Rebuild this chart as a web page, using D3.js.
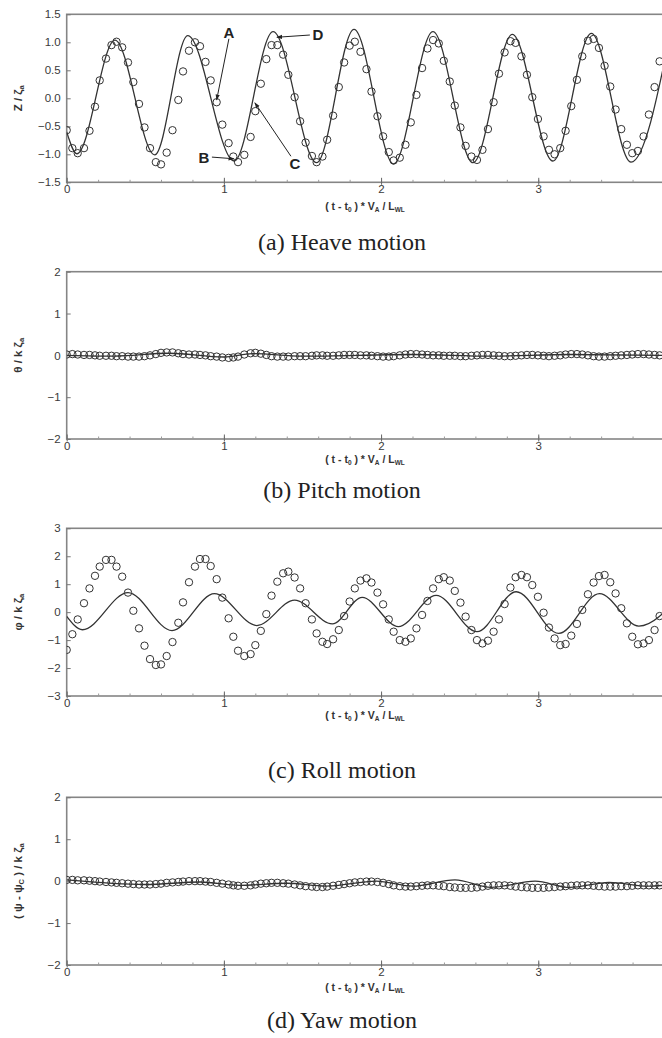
<!DOCTYPE html>
<html>
<head>
<meta charset="utf-8"/>
<title>Ship motions in waves</title>
<script src="https://d3js.org/d3.v7.min.js"></script>
<style>
  body { margin: 0; background: #fff; }
  svg { display: block; }
  .tick text { font-family: "Liberation Sans", Arial, sans-serif; font-size: 11.5px; fill: #3a3a3a; }
  .ylab, .xlab { font-family: "Liberation Sans", Arial, sans-serif; font-weight: bold; fill: #333; }
  .caption { font-family: "Liberation Serif", "Times New Roman", serif; font-size: 24px; fill: #222; }
  .anno { font-family: "Liberation Sans", Arial, sans-serif; font-weight: bold; font-size: 15px; fill: #222; }
</style>
</head>
<body>
<svg width="662" height="1038"></svg>

<script>

// sample times of the measured (circle) series, shared by all four panels
const expTime = [0, .036, .07, .11, .145, .18, .21, .25, .285, .317, .353, .39, .424, .46, .495, .53,
  .567, .60, .636, .673, .71, .74, .778, .816, .848, .883, .916, .954, .99, 1.03, 1.06, 1.09, 1.13,
  1.17, 1.2, 1.235, 1.27, 1.303, 1.34, 1.377, 1.41, 1.45, 1.485, 1.52, 1.56, 1.59, 1.627, 1.657,
  1.695, 1.731, 1.765, 1.80, 1.833, 1.869, 1.907, 1.939, 1.977, 2.013, 2.049, 2.08, 2.119, 2.155,
  2.189, 2.225, 2.261, 2.295, 2.331, 2.367, 2.399, 2.437, 2.469, 2.505, 2.538, 2.575, 2.61, 2.645,
  2.68, 2.716, 2.75, 2.786, 2.823, 2.856, 2.893, 2.928, 2.962, 2.998, 3.034, 3.068, 3.104, 3.14,
  3.174, 3.21, 3.246, 3.28, 3.316, 3.352, 3.386, 3.422, 3.458, 3.492, 3.528, 3.564, 3.598, 3.634,
  3.67, 3.704, 3.74, 3.772];

// measured values (circles)
const heaveExp = [-0.57, -0.89, -0.98, -0.89, -0.58, -0.15, 0.32, 0.71, 0.95, 1.01, 0.91, 0.64, 0.29,
  -0.10, -0.52, -0.89, -1.14, -1.18, -0.97, -0.57, -0.03, 0.48, 0.85, 1.0, 0.93, 0.65, 0.32, -0.07,
  -0.47, -0.8, -1.04, -1.14, -1.01, -0.69, -0.23, 0.26, 0.70, 0.95, 0.95, 0.78, 0.42, 0.02, -0.41,
  -0.79, -1.03, -1.14, -1.04, -0.74, -0.31, 0.20, 0.64, 0.94, 1.01, 0.83, 0.52, 0.12, -0.32, -0.68,
  -0.96, -1.11, -1.06, -0.83, -0.43, 0.06, 0.54, 0.89, 1.04, 0.98, 0.67, 0.30, -0.13, -0.52, -0.85,
  -1.04, -1.10, -0.92, -0.55, -0.07, 0.44, 0.82, 1.02, 0.99, 0.75, 0.42, 0.02, -0.37, -0.68, -0.92,
  -1.0, -0.89, -0.58, -0.14, 0.33, 0.75, 1.03, 1.06, 0.90, 0.58, 0.21, -0.20, -0.55, -0.83, -0.98,
  -0.94, -0.68, -0.29, 0.20, 0.66];

const pitchExp = [0.02, 0.03, 0.02, 0.01, 0.01, 0.0, -0.01, -0.01, -0.01, -0.02, -0.02, -0.03, -0.03,
  -0.03, -0.02, 0.0, 0.03, 0.06, 0.07, 0.07, 0.05, 0.03, 0.02, 0.02, 0.01, 0.0, -0.02, -0.03, -0.05,
  -0.06, -0.05, -0.03, 0.02, 0.05, 0.06, 0.04, 0.01, -0.02, -0.03, -0.03, -0.03, -0.02, -0.02, -0.02,
  -0.01, 0.0, 0.0, -0.01, -0.01, 0.0, 0.01, 0.01, 0.01, 0.0, 0.0, -0.01, -0.02, -0.03, -0.03, -0.02,
  0.0, 0.02, 0.03, 0.03, 0.02, 0.01, 0.0, 0.0, -0.01, -0.01, -0.01, -0.02, -0.02, -0.01, 0.0, 0.01,
  0.01, 0.0, -0.01, -0.02, -0.02, -0.01, 0.0, 0.01, 0.01, 0.0, -0.01, -0.02, -0.01, 0.0, 0.02, 0.03,
  0.03, 0.02, 0.0, -0.02, -0.03, -0.03, -0.02, -0.01, 0.0, 0.01, 0.02, 0.03, 0.03, 0.02, 0.01, 0.0];

const rollExp = [-1.35, -0.79, -0.26, 0.32, 0.85, 1.30, 1.63, 1.87, 1.87, 1.63, 1.27, 0.70, 0.05, -0.58,
  -1.20, -1.68, -1.89, -1.87, -1.57, -1.07, -0.38, 0.35, 1.07, 1.63, 1.90, 1.90, 1.65, 1.18, 0.52,
  -0.22, -0.88, -1.38, -1.57, -1.50, -1.18, -0.67, -0.07, 0.59, 1.09, 1.39, 1.45, 1.24, 0.85, 0.32,
  -0.26, -0.76, -1.06, -1.14, -0.97, -0.64, -0.14, 0.38, 0.85, 1.13, 1.21, 1.06, 0.70, 0.28, -0.26,
  -0.70, -1.0, -1.06, -0.94, -0.58, -0.10, 0.40, 0.85, 1.18, 1.25, 1.13, 0.76, 0.34, -0.16, -0.64,
  -1.0, -1.12, -1.02, -0.70, -0.26, 0.29, 0.88, 1.25, 1.33, 1.25, 0.97, 0.55, -0.02, -0.55, -0.94,
  -1.18, -1.14, -0.84, -0.42, 0.08, 0.64, 1.06, 1.29, 1.33, 1.07, 0.67, 0.14, -0.40, -0.88, -1.15,
  -1.12, -1.0, -0.64, -0.14];

const yawExp = [0.03, 0.03, 0.02, 0.02, 0.01, 0.0, -0.01, -0.02, -0.03, -0.04, -0.05, -0.06, -0.07,
  -0.08, -0.08, -0.08, -0.07, -0.06, -0.04, -0.03, -0.02, -0.01, 0.0, 0.0, 0.0, -0.01, -0.02, -0.04,
  -0.06, -0.08, -0.1, -0.11, -0.11, -0.1, -0.08, -0.06, -0.05, -0.04, -0.04, -0.05, -0.06, -0.08,
  -0.1, -0.12, -0.13, -0.14, -0.14, -0.13, -0.11, -0.09, -0.07, -0.05, -0.03, -0.02, -0.01, -0.01,
  -0.02, -0.04, -0.07, -0.1, -0.12, -0.13, -0.13, -0.12, -0.11, -0.1, -0.1, -0.11, -0.12, -0.14,
  -0.15, -0.16, -0.16, -0.16, -0.15, -0.13, -0.11, -0.1, -0.1, -0.1, -0.11, -0.13, -0.14, -0.15,
  -0.16, -0.16, -0.16, -0.15, -0.14, -0.13, -0.12, -0.11, -0.1, -0.1, -0.1, -0.11, -0.12, -0.13,
  -0.13, -0.13, -0.12, -0.12, -0.11, -0.1, -0.1, -0.1, -0.1, -0.1];

// computed values (solid line), [time, value] at the turning points
const heaveCfd = [[0, -0.6], [0.065, -0.99], [0.307, 1.04], [0.56, -1.01], [0.77, 1.12], [1.065, -1.12],
  [1.313, 1.19], [1.59, -1.15], [1.828, 1.23], [2.08, -1.17], [2.33, 1.19], [2.585, -1.15],
  [2.835, 1.14], [3.093, -1.12], [3.338, 1.16], [3.59, -1.14], [3.84, 1.15]];

const pitchCfd = [[0, 0.0], [0.3, -0.02], [0.65, 0.05], [1.0, -0.04], [1.18, 0.04], [1.5, -0.02],
  [2.2, 0.02], [2.7, -0.02], [3.2, 0.02], [3.8, 0.0]];

const rollCfd = [[0, -0.15], [0.1, -0.63], [0.39, 0.70], [0.67, -0.66], [0.94, 0.66], [1.21, -0.48],
  [1.45, 0.43], [1.69, -0.42], [1.88, 0.53], [2.11, -0.52], [2.35, 0.60], [2.61, -0.70],
  [2.86, 0.73], [3.13, -0.76], [3.39, 0.66], [3.64, -0.50], [3.9, 0.6]];

const yawCfd = [[0, 0.03], [0.5, -0.08], [0.85, -0.02], [1.1, -0.1], [1.4, -0.05], [1.65, -0.12],
  [1.97, 0.0], [2.2, -0.12], [2.47, 0.03], [2.7, -0.15], [2.98, 0.0], [3.2, -0.15], [3.45, -0.03],
  [3.7, -0.12], [3.8, -0.1]];

// A-D markers on the heave curve: label position and the point it points to
const heaveMarks = [
  { name: "A", label: [1.032, 1.17], target: [0.954, -0.03] },
  { name: "B", label: [0.873, -1.05], target: [1.064, -1.08] },
  { name: "C", label: [1.452, -1.16], target: [1.197, -0.08] },
  { name: "D", label: [1.598, 1.13], target: [1.337, 1.09] }
];

const panels = [
  { top: 14.3, bottom: 182.3, domain: [-1.5, 1.5], ticks: [-1.5, -1, -0.5, 0, 0.5, 1, 1.5], fmt: d3.format(".1f"),
    exp: heaveExp, cfd: heaveCfd, ylab: [["Z / ζ"], ["a", 1]], xlabY: 210, caption: "(a) Heave motion", capY: 250 },
  { top: 271.7, bottom: 439, domain: [-2, 2], ticks: [-2, -1, 0, 1, 2], fmt: d3.format("d"),
    exp: pitchExp, cfd: pitchCfd, ylab: [["θ / k ζ"], ["a", 1]], xlabY: 463, caption: "(b) Pitch motion", capY: 498 },
  { top: 528.3, bottom: 696, domain: [-3, 3], ticks: [-3, -2, -1, 0, 1, 2, 3], fmt: d3.format("d"),
    exp: rollExp, cfd: rollCfd, ylab: [["φ / k ζ"], ["a", 1]], xlabY: 719, caption: "(c) Roll motion", capY: 778 },
  { top: 797.3, bottom: 965, domain: [-2, 2], ticks: [-2, -1, 0, 1, 2], fmt: d3.format("d"),
    exp: yawExp, cfd: yawCfd, ylab: [["( ψ - ψ"], ["C", 1], [" ) / k ζ"], ["a", 1]], xlabY: 991, caption: "(d) Yaw motion", capY: 1028 }
];

const svg = d3.select("svg");

const x = d3.scaleLinear()
    .domain([0, 3.8])
    .range([66.7, 664]);

svg.append("defs").append("marker")
    .attr("id", "arrow")
    .attr("viewBox", "0 0 10 10")
    .attr("refX", 9)
    .attr("refY", 5)
    .attr("markerWidth", 6)
    .attr("markerHeight", 6)
    .attr("orient", "auto")
  .append("path")
    .attr("d", "M0,1.5 L10,5 L0,8.5 Z")
    .attr("fill", "#222");

panels.forEach((p, i) => {
  const y = d3.scaleLinear()
      .domain(p.domain)
      .range([p.bottom, p.top]);

  const g = svg.append("g");

  g.append("clipPath")
      .attr("id", "clip" + i)
    .append("rect")
      .attr("x", x.range()[0])
      .attr("y", p.top)
      .attr("width", 662 - x.range()[0])
      .attr("height", p.bottom - p.top);

  // frame
  g.append("rect")
      .attr("x", x.range()[0])
      .attr("y", p.top)
      .attr("width", x.range()[1] - x.range()[0] + 4)
      .attr("height", p.bottom - p.top)
      .attr("fill", "none")
      .attr("stroke", "#858585")
      .attr("stroke-width", 1.6);

  // minor x ticks
  g.append("g")
      .attr("transform", `translate(0,${p.bottom})`)
      .call(d3.axisBottom(x).tickValues(d3.range(0.2, 3.8, 0.2)).tickSize(-2.5).tickFormat(""))
      .call(a => a.select(".domain").remove())
      .call(a => a.selectAll("line").attr("stroke", "#999"));

  // major x ticks
  g.append("g")
      .attr("transform", `translate(0,${p.bottom})`)
      .call(d3.axisBottom(x).tickValues([0, 1, 2, 3]).tickSize(-4.5).tickPadding(3).tickFormat(d3.format("d")))
      .call(a => a.select(".domain").remove())
      .call(a => a.selectAll("line").attr("stroke", "#666").attr("y2", -4.5).attr("y1", 2.5));

  // y ticks
  g.append("g")
      .attr("transform", `translate(${x.range()[0]},0)`)
      .call(d3.axisLeft(y).tickValues(p.ticks).tickSize(-4).tickPadding(6).tickFormat(p.fmt))
      .call(a => a.select(".domain").remove())
      .call(a => a.selectAll("line").attr("stroke", "#777"));

  const plot = g.append("g").attr("clip-path", `url(#clip${i})`);

  plot.append("path")
      .datum(p.cfd)
      .attr("fill", "none")
      .attr("stroke", "#333")
      .attr("stroke-width", 1.3)
      .attr("d", d3.line()
        .x(d => x(d[0]))
        .y(d => y(d[1]))
        .curve(d3.curveMonotoneX));

  plot.selectAll(".pt")
      .data(p.exp.map((v, k) => [expTime[k], v]))
      .join("circle")
      .attr("class", "pt")
      .attr("cx", d => x(d[0]))
      .attr("cy", d => y(d[1]))
      .attr("r", 3.7)
      .attr("fill", "none")
      .attr("stroke", "#333")
      .attr("stroke-width", 1);

  // y axis title
  const yt = g.append("text")
      .attr("class", "ylab")
      .attr("font-size", 11.5)
      .attr("text-anchor", "middle")
      .attr("transform", `translate(22,${(p.top + p.bottom) / 2}) rotate(-90)`);
  p.ylab.forEach(s => {
    yt.append("tspan")
        .attr("font-size", s[1] ? 7.5 : 11.5)
        .attr("baseline-shift", s[1] ? "-25%" : null)
        .text(s[0]);
  });

  // x axis title
  const xt = g.append("text")
      .attr("class", "xlab")
      .attr("font-size", 10.5)
      .attr("text-anchor", "middle")
      .attr("x", 365)
      .attr("y", p.xlabY);
  [["( t - t"], ["0", 1], [" ) * V"], ["A", 1], [" / L"], ["WL", 1]].forEach(s => {
    xt.append("tspan")
        .attr("font-size", s[1] ? 6.5 : 10.5)
        .attr("baseline-shift", s[1] ? "-25%" : null)
        .text(s[0]);
  });

  g.append("text")
      .attr("class", "caption")
      .attr("text-anchor", "middle")
      .attr("x", 342)
      .attr("y", p.capY)
      .text(p.caption);

  if (i === 0) {
    const marks = g.selectAll(".mark")
        .data(heaveMarks)
        .join("g")
        .attr("class", "mark");

    marks.append("line")
        .attr("x1", d => x(d.label[0]) + (d.name === "D" ? -8 : d.name === "B" ? 8 : d.name === "C" ? -4 : 0))
        .attr("y1", d => y(d.label[1]) + (d.name === "A" ? 6 : d.name === "C" ? -7 : 0))
        .attr("x2", d => x(d.target[0]))
        .attr("y2", d => y(d.target[1]))
        .attr("stroke", "#222")
        .attr("stroke-width", 1)
        .attr("marker-end", "url(#arrow)");

    marks.append("text")
        .attr("class", "anno")
        .attr("text-anchor", "middle")
        .attr("x", d => x(d.label[0]))
        .attr("y", d => y(d.label[1]))
        .attr("dy", "0.36em")
        .text(d => d.name);
  }
});

</script>
</body>
</html>
